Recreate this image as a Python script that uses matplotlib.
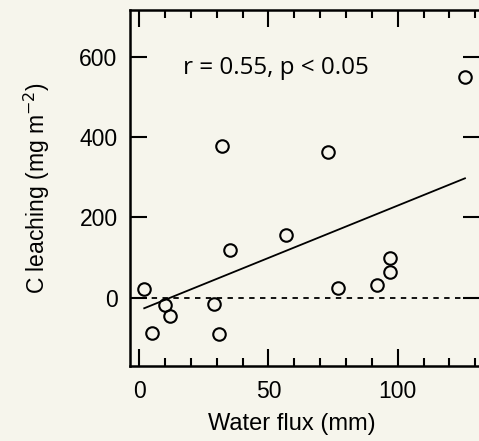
import numpy as np
from matplotlib import pyplot as plt
from matplotlib.ticker import MultipleLocator

# water flux (mm) vs C leaching (mg m-2)
water_flux = [2, 5, 10, 12, 29, 31, 32, 35, 57, 73, 77, 92, 97, 97, 126]
c_leaching = [23, -89, -18, -46, -16, -91, 378, 119, 156, 364, 25, 31, 65, 100, 550]
stats_label = "r = 0.55, p < 0.05"

plt.rcParams["font.family"] = ["Liberation Sans", "DejaVu Sans"]

fig = plt.figure(figsize=(4.79, 4.41), dpi=100, facecolor="#f6f5ec")
ax = fig.add_axes([0.2714, 0.170, 0.7317, 0.807])
ax.set_facecolor("#f6f5ec")

x = np.array(water_flux)
y = np.array(c_leaching)
slope, intercept = np.polyfit(x, y, 1)
xf = np.array([x.min(), x.max()])
ax.plot(xf, slope * xf + intercept, color="black", lw=1.3)
ax.axhline(0, color="black", lw=1.3, ls=(0, (3, 3)))
ax.plot(x, y, "o", mfc="none", mec="black", mew=1.5, ms=9, ls="none")

ax.text(0.151, 0.837, stats_label, transform=ax.transAxes, fontsize=17.5,
        family=["Open Sans", "DejaVu Sans"], va="center")

ax.set_xlim(-3.5, 132)
ax.set_ylim(-170, 716)
ax.xaxis.set_major_locator(MultipleLocator(50))
ax.xaxis.set_minor_locator(MultipleLocator(10))
ax.yaxis.set_major_locator(MultipleLocator(200))
ax.tick_params(which="both", direction="in", top=True, right=True, width=1.5,
               labelsize=16.5)
ax.tick_params(axis="x", pad=10)
ax.tick_params(axis="y", pad=9)
ax.tick_params(which="major", length=12)
ax.tick_params(which="minor", length=6)
for s in ax.spines.values():
    s.set_linewidth(1.8)

ax.set_xlabel("Water flux (mm)", fontsize=17)
ax.xaxis.set_label_coords(0.462, -0.132)
ax.set_ylabel("C leaching (mg m$^{-2}$)", fontsize=16.5)
ax.yaxis.set_label_coords(-0.222, 0.5)

fig.savefig("out.png", dpi=100, facecolor=fig.get_facecolor())
